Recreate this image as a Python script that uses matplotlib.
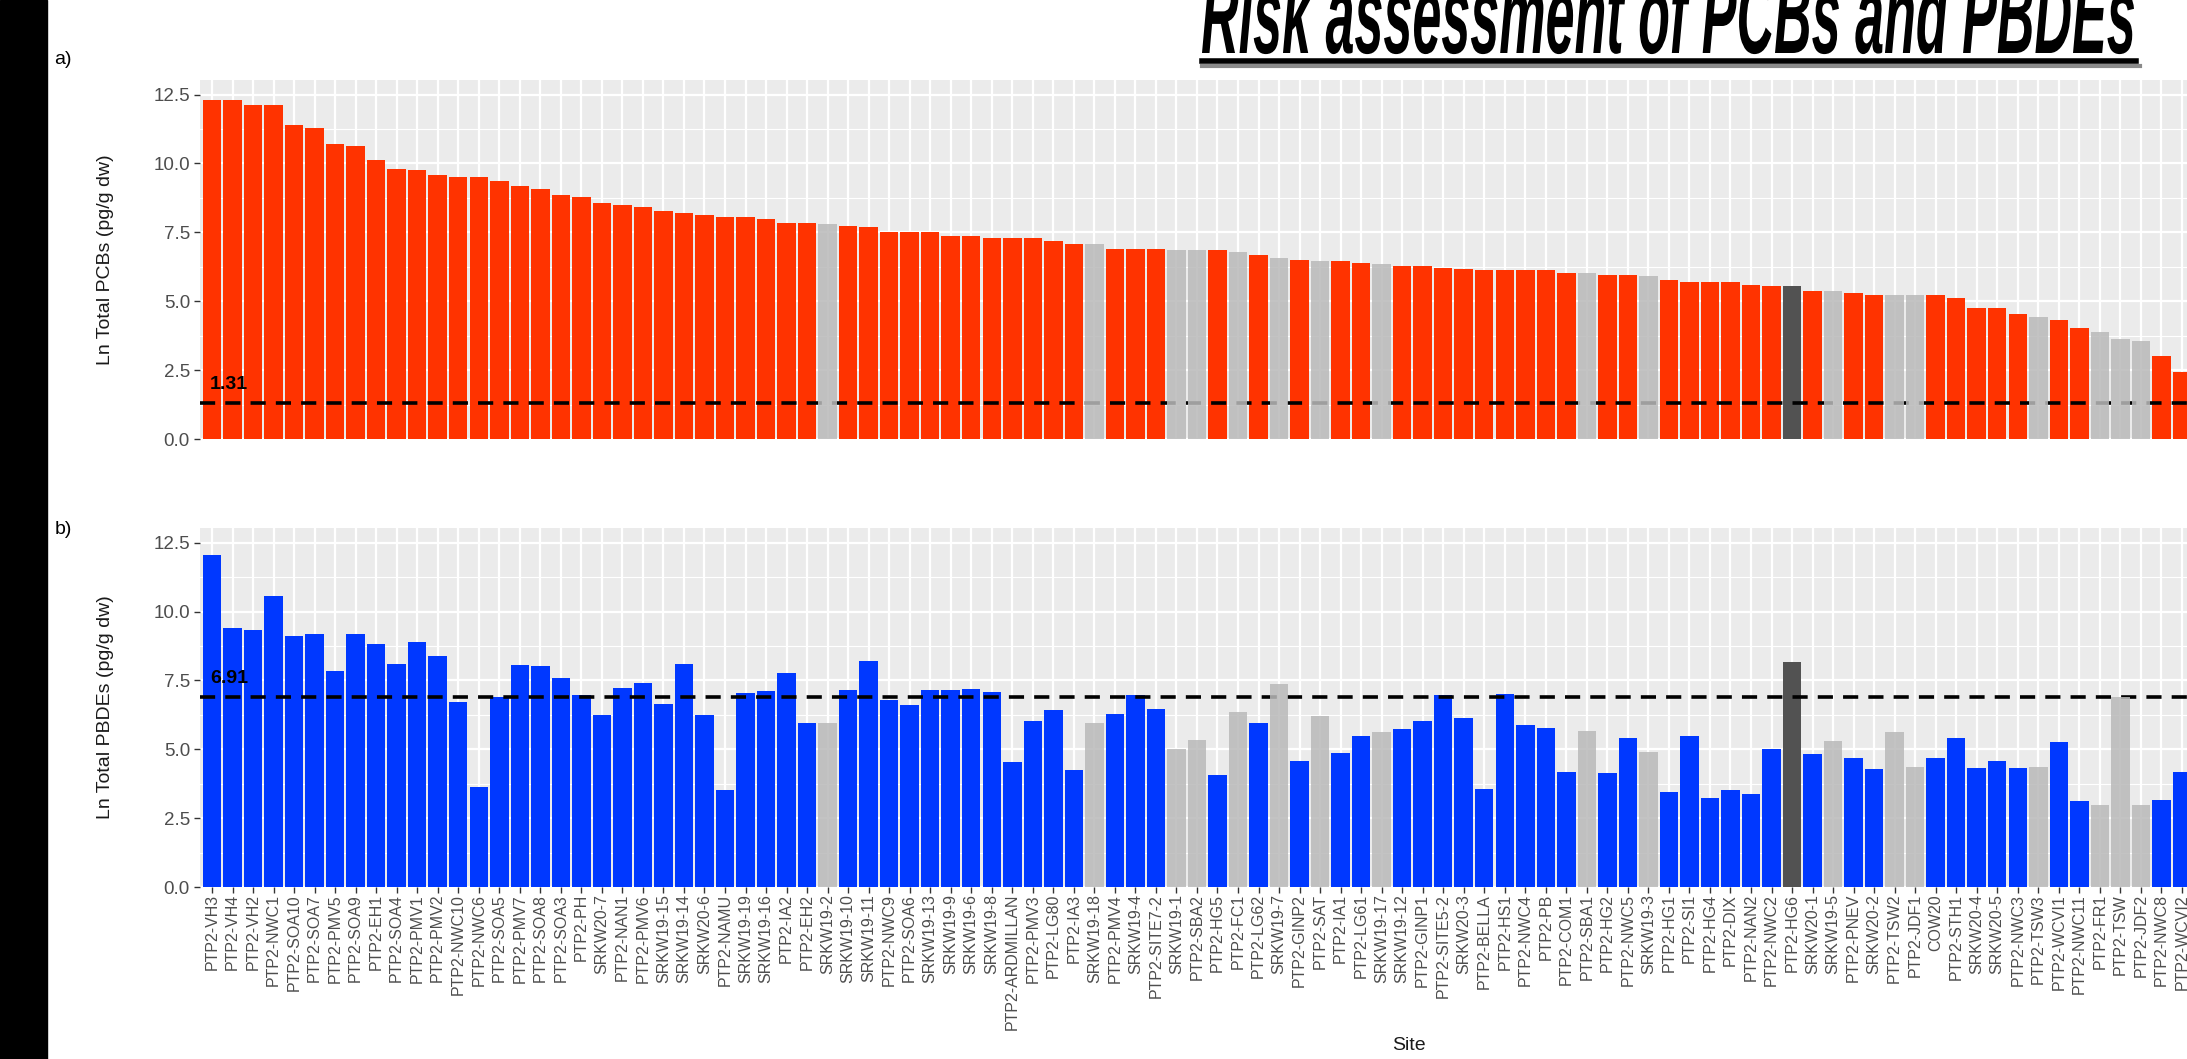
import numpy as np
import matplotlib
matplotlib.use("Agg")
import matplotlib.pyplot as plt
from matplotlib.ticker import MultipleLocator
from matplotlib.textpath import TextPath
from matplotlib.patches import PathPatch
from matplotlib.font_manager import FontProperties
from matplotlib.transforms import Affine2D

plt.rcParams['font.family'] = ['Liberation Sans', 'DejaVu Sans']

# sites in plotting order (sorted by total PCBs)
sites = ['PTP2-VH3', 'PTP2-VH4', 'PTP2-VH2', 'PTP2-NWC1', 'PTP2-SOA10', 'PTP2-SOA7',
         'PTP2-PMV5', 'PTP2-SOA9', 'PTP2-EH1', 'PTP2-SOA4', 'PTP2-PMV1', 'PTP2-PMV2',
         'PTP2-NWC10', 'PTP2-NWC6', 'PTP2-SOA5', 'PTP2-PMV7', 'PTP2-SOA8', 'PTP2-SOA3',
         'PTP2-PH', 'SRKW20-7', 'PTP2-NAN1', 'PTP2-PMV6', 'SRKW19-15', 'SRKW19-14',
         'SRKW20-6', 'PTP2-NAMU', 'SRKW19-19', 'SRKW19-16', 'PTP2-IA2', 'PTP2-EH2',
         'SRKW19-2', 'SRKW19-10', 'SRKW19-11', 'PTP2-NWC9', 'PTP2-SOA6', 'SRKW19-13',
         'SRKW19-9', 'SRKW19-6', 'SRKW19-8', 'PTP2-ARDMILLAN', 'PTP2-PMV3', 'PTP2-LG80',
         'PTP2-IA3', 'SRKW19-18', 'PTP2-PMV4', 'SRKW19-4', 'PTP2-SITE7-2', 'SRKW19-1',
         'PTP2-SBA2', 'PTP2-HG5', 'PTP2-FC1', 'PTP2-LG62', 'SRKW19-7', 'PTP2-GINP2',
         'PTP2-SAT', 'PTP2-IA1', 'PTP2-LG61', 'SRKW19-17', 'SRKW19-12', 'PTP2-GINP1',
         'PTP2-SITE5-2', 'SRKW20-3', 'PTP2-BELLA', 'PTP2-HS1', 'PTP2-NWC4', 'PTP2-PB',
         'PTP2-COM1', 'PTP2-SBA1', 'PTP2-HG2', 'PTP2-NWC5', 'SRKW19-3', 'PTP2-HG1',
         'PTP2-SI1', 'PTP2-HG4', 'PTP2-DIX', 'PTP2-NAN2', 'PTP2-NWC2', 'PTP2-HG6',
         'SRKW20-1', 'SRKW19-5', 'PTP2-PNEV', 'SRKW20-2', 'PTP2-TSW2', 'PTP2-JDF1',
         'COW20', 'PTP2-STH1', 'SRKW20-4', 'SRKW20-5', 'PTP2-NWC3', 'PTP2-TSW3',
         'PTP2-WCVI1', 'PTP2-NWC11', 'PTP2-FR1', 'PTP2-TSW', 'PTP2-JDF2', 'PTP2-NWC8',
         'PTP2-WCVI2']

ln_pcb = [12.32, 12.32, 12.11, 12.11, 11.39, 11.30, 10.69, 10.62, 10.12, 9.79,
          9.75, 9.57, 9.50, 9.50, 9.37, 9.19, 9.06, 8.86, 8.78, 8.55,
          8.50, 8.41, 8.27, 8.19, 8.14, 8.06, 8.06, 8.00, 7.84, 7.84,
          7.80, 7.72, 7.68, 7.50, 7.50, 7.50, 7.37, 7.37, 7.31, 7.31,
          7.31, 7.17, 7.09, 7.07, 6.91, 6.91, 6.88, 6.87, 6.87, 6.86,
          6.79, 6.68, 6.57, 6.50, 6.47, 6.45, 6.38, 6.36, 6.27, 6.27,
          6.22, 6.17, 6.14, 6.14, 6.14, 6.12, 6.04, 6.04, 5.94, 5.94,
          5.91, 5.77, 5.71, 5.71, 5.71, 5.58, 5.56, 5.55, 5.38, 5.37,
          5.29, 5.24, 5.24, 5.23, 5.21, 5.11, 4.75, 4.75, 4.52, 4.44,
          4.32, 4.02, 3.90, 3.62, 3.57, 3.02, 2.42]

ln_pbde = [12.04, 9.41, 9.34, 10.58, 9.11, 9.19, 7.83, 9.19, 8.83, 8.11,
           8.89, 8.39, 6.72, 3.63, 6.90, 8.07, 8.02, 7.57, 6.96, 6.24,
           7.24, 7.42, 6.65, 8.11, 6.24, 3.53, 7.05, 7.10, 7.78, 5.96,
           5.94, 7.14, 8.20, 6.78, 6.60, 7.14, 7.14, 7.20, 7.06, 4.55,
           6.01, 6.42, 4.23, 5.94, 6.29, 6.96, 6.46, 5.01, 5.35, 4.05,
           6.35, 5.96, 7.36, 4.59, 6.19, 4.87, 5.49, 5.63, 5.72, 6.01,
           6.96, 6.14, 3.54, 7.01, 5.87, 5.78, 4.18, 5.67, 4.13, 5.41,
           4.89, 3.45, 5.47, 3.23, 3.51, 3.36, 5.01, 8.18, 4.81, 5.31,
           4.67, 4.27, 5.61, 4.37, 4.67, 5.41, 4.31, 4.59, 4.31, 4.34,
           5.28, 3.12, 2.96, 6.88, 2.96, 3.17, 4.18]

# sites drawn in grey, and the one reference site in dark grey
grey_sites = ['SRKW19-2', 'SRKW19-18', 'SRKW19-1', 'PTP2-SBA2', 'PTP2-FC1', 'SRKW19-7',
              'PTP2-SAT', 'SRKW19-17', 'PTP2-SBA1', 'SRKW19-3', 'SRKW19-5', 'PTP2-TSW2',
              'PTP2-JDF1', 'PTP2-TSW3', 'PTP2-FR1', 'PTP2-TSW', 'PTP2-JDF2']
dark_sites = ['PTP2-HG6']

pcb_threshold = 1.31
pbde_threshold = 6.91
n_slots = 117  # the original panel carries on past the right edge of the slide
y_top = 13.03

W, H = 2187, 1059
fig = plt.figure(figsize=(W / 100, H / 100), dpi=100)

# black strip on the left of the slide
fig.patches.append(plt.Rectangle((0, 0), 47 / W, 1, transform=fig.transFigure,
                                 color='black', zorder=0))

step = 20.52
left_px = 212 - 0.6 * step
ax_w = (n_slots + 0.2) * step / W
unit = 27.55
ax_top = fig.add_axes([left_px / W, 1 - 439 / H, ax_w, y_top * unit / H])
ax_bot = fig.add_axes([left_px / W, 1 - 887 / H, ax_w, y_top * unit / H])

x = np.arange(len(sites))
is_grey = np.array([s in grey_sites for s in sites])
is_dark = np.array([s in dark_sites for s in sites])
is_main = ~is_grey & ~is_dark


def draw_panel(ax, vals, main_col, thr, ylab):
    vals = np.array(vals)
    ax.set_facecolor('#EBEBEB')
    for sp in ax.spines.values():
        sp.set_visible(False)
    ax.bar(x[is_main], vals[is_main], width=0.9, color=main_col, zorder=2)
    ax.bar(x[is_dark], vals[is_dark], width=0.9, color='#525252', zorder=2)
    ax.axhline(thr, color='black', lw=2.6, ls=(0, (4.2, 2.8)), zorder=3)
    ax.bar(x[is_grey], vals[is_grey], width=0.9, color='#B9B9B9', alpha=0.86, zorder=4)
    ax.text(-0.1, thr + 0.36, f'{thr:.2f}', fontsize=14, fontweight='bold',
            ha='left', va='bottom', zorder=5)

    ax.set_ylim(0, y_top)
    ax.set_xlim(-0.6, n_slots - 0.4)
    ax.yaxis.set_minor_locator(MultipleLocator(1.25))
    ax.set_yticks([0, 2.5, 5, 7.5, 10, 12.5])
    ax.set_yticklabels(['0.0', '2.5', '5.0', '7.5', '10.0', '12.5'])
    ax.set_xticks(x)
    ax.grid(which='major', color='white', lw=1.6, zorder=0)
    ax.grid(which='minor', axis='y', color='white', lw=0.8, zorder=0)
    ax.set_axisbelow(True)
    ax.tick_params(axis='y', which='major', length=4, width=1, color='#333333',
                   labelsize=13.5, labelcolor='#4D4D4D', pad=3)
    ax.tick_params(axis='y', which='minor', length=0)
    ax.set_ylabel(ylab, fontsize=14, color='#1A1A1A')
    ax.yaxis.set_label_coords((114 - left_px) / (ax_w * W), 0.5)


draw_panel(ax_top, ln_pcb, '#FF3300', pcb_threshold, 'Ln Total PCBs (pg/g dw)')
draw_panel(ax_bot, ln_pbde, '#0038FF', pbde_threshold, 'Ln Total PBDEs (pg/g dw)')

ax_top.tick_params(axis='x', length=0, labelbottom=False)
ax_bot.set_xticklabels(sites, rotation=90, fontsize=11.5, color='#4D4D4D')
ax_bot.tick_params(axis='x', length=4, width=1, color='#333333', pad=1)

fig.text(1409 / W, 1 - 1046 / H, 'Site', fontsize=14, ha='center', va='center',
         color='#1A1A1A')
fig.text(63 / W, 1 - 59 / H, 'a)', fontsize=14, ha='center', va='center')
fig.text(63 / W, 1 - 530 / H, 'b)', fontsize=14, ha='center', va='center')

# slide title: tall condensed lettering cut off by the top of the screenshot
title_prop = FontProperties(family='Liberation Sans', weight='bold', style='italic')
tp = TextPath((0, 0), 'Risk assessment of PCBs and PBDEs', size=100, prop=title_prop)
bb = tp.get_extents()
sx = 932 / bb.width
sy = 58 / 52.0
tr = Affine2D().translate(-bb.x0, 0).scale(sx, sy).translate(1202, H - 53)
fig.add_artist(PathPatch(tp, transform=tr, facecolor='black', edgecolor='none'))
fig.add_artist(plt.Line2D([1202 / W, 2140 / W], [1 - 66 / H, 1 - 66 / H],
                          transform=fig.transFigure, color='#8A8A8A', lw=3))
fig.add_artist(plt.Line2D([1202 / W, 2136 / W], [1 - 61 / H, 1 - 61 / H],
                          transform=fig.transFigure, color='black', lw=4))

fig.savefig('out.png', dpi=100)
